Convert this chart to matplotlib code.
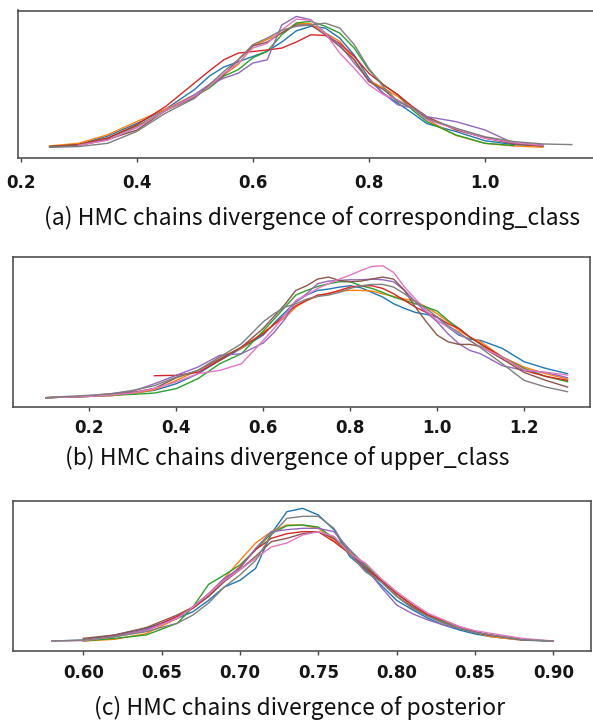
import numpy as np
import matplotlib.pyplot as plt

nan = np.nan
chain_colors = ['tab:blue', 'tab:orange', 'tab:green', 'tab:red',
                'tab:purple', 'tab:brown', 'tab:pink', 'tab:gray']

# (a) corresponding_class -- KDE height of each chain (relative units)
a_x = [0.25, 0.30, 0.35, 0.40, 0.45, 0.50, 0.525, 0.55, 0.575, 0.60, 0.625, 0.65, 0.675, 0.70,
       0.725, 0.75, 0.775, 0.80, 0.825, 0.85, 0.875, 0.90, 0.95, 1.00, 1.05, 1.10, 1.15]
a_blue = [.005, .02, .085, .18, .29, .44, .54, .61, .65, .69, .73, .80, .885, .92,
          .906, .83, .70, .525, .41, .335, .26, .18, .12, .05, .02, .01, nan]
a_orange = [.01, .03, .095, .195, .29, .40, .475, .55, .63, .77, .82, .87, .94, .94,
            .87, .805, .665, .51, .45, .386, .30, .21, .09, .03, .01, .00, nan]
a_green = [.005, .02, .07, .16, .28, .39, .45, .54, .59, .68, .73, .855, .945, .957,
           .92, .868, .754, .589, .475, .40, .284, .195, .094, .03, .013, nan, nan]
a_red = [.005, .02, .07, .17, .31, .49, .58, .665, .716, .728, .74, .754, .80, .855,
         .85, .79, .69, .563, .475, .40, .31, .233, .132, .074, .03, .01, nan]
a_purple = [.00, .015, .055, .15, .28, .40, .475, .525, .563, .64, .665, .93, .995, .97,
            .868, .78, .64, .513, .41, .322, .30, .233, .195, .132, .03, .018, nan]
a_brown = [.005, .015, .06, .13, .28, .38, .46, .55, .665, .77, .80, .87, .93, .93,
           .855, .766, .665, .50, .44, .348, .30, .22, .14, .07, .025, .01, nan]
a_pink = [nan, .015, .055, .15, .28, .39, .46, .56, .64, .754, .79, .89, .975, .965,
          .868, .716, .60, .475, .40, .36, .30, .21, .14, .068, .035, .015, nan]
a_gray = [.00, .005, .03, .12, .26, .373, .475, .576, .665, .78, .83, .89, .92, .93,
          .944, .906, .78, .60, .46, .348, .30, .22, .145, .08, .043, .025, .02]
a_ticks = [0.2, 0.4, 0.6, 0.8, 1.0]
a_labels = ['0.2', '0.4', '0.6', '0.8', '1.0']

# (b) upper_class
b_x = [0.10, 0.15, 0.20, 0.25, 0.30, 0.35, 0.40, 0.45, 0.50, 0.55, 0.60, 0.625, 0.65, 0.675,
       0.70, 0.725, 0.75, 0.775, 0.80, 0.825, 0.85, 0.875, 0.90, 0.925, 0.95, 0.975, 1.00,
       1.025, 1.05, 1.075, 1.10, 1.15, 1.20, 1.25, 1.30]
b_blue = [.00, .005, .01, .015, .035, .055, .105, .18, .28, .37, .47, .56, .64, .72,
          .77, .805, .815, .83, .84, .825, .79, .755, .705, .67, .64, .625, .605,
          .53, .47, .44, .43, .37, .27, .22, .18]
b_orange = [.00, .005, .01, .015, .03, .06, .13, .205, .305, .37, .49, .55, .60, .68,
            .73, .76, .785, .80, .805, .805, .80, .78, .76, .74, .725, .68, .63,
            .57, .505, .455, .42, .305, .23, .18, .14]
b_green = [.00, .005, .01, .02, .025, .035, .068, .143, .255, .33, .50, .59, .68, .77,
           .805, .835, .855, .87, .87, .84, .82, .79, .755, .73, .705, .68, .65,
           .58, .52, .455, .40, .305, .22, .16, .12]
b_red = [nan, nan, nan, nan, nan, .165, .168, .19, .28, .38, .48, .55, .62, .69,
         .73, .77, .78, .805, .83, .84, .84, .82, .78, .73, .68, .64, .605,
         .555, .52, .455, .405, .305, .205, .16, .13]
b_purple = [.00, .005, .015, .03, .048, .105, .168, .23, .318, .33, .41, .49, .59, .72,
            .78, .855, .875, .88, .885, .885, .89, .885, .87, .805, .72, .64, .57,
            .48, .405, .355, .33, .24, .205, .19, .15]
b_brown = [.00, .005, .01, .025, .04, .07, .15, .205, .29, .38, .52, .61, .70, .805,
           .84, .89, .905, .88, .87, .875, .89, .905, .89, .805, .68, .57, .47,
           .42, .40, .40, .385, .29, .19, .13, .08]
b_pink = [.00, .005, .01, .02, .035, .07, .118, .18, .205, .255, .43, .52, .62, .73,
          .77, .82, .855, .89, .92, .955, .985, .99, .94, .83, .74, .655, .58,
          .53, .48, .43, .38, .305, .21, .19, .17]
b_gray = [.00, .01, .018, .03, .055, .09, .155, .205, .305, .405, .57, .63, .68, .705,
          .74, .76, .77, .79, .82, .84, .85, .85, .83, .78, .72, .67, .605,
          .54, .49, .43, .375, .255, .13, .08, .045]
b_ticks = [0.2, 0.4, 0.6, 0.8, 1.0, 1.2]
b_labels = ['0.2', '0.4', '0.6', '0.8', '1.0', '1.2']

# (c) posterior
c_x = [0.58, 0.60, 0.62, 0.64, 0.66, 0.67, 0.68, 0.69, 0.70, 0.71, 0.72, 0.73, 0.74, 0.75,
       0.76, 0.77, 0.78, 0.79, 0.80, 0.81, 0.82, 0.83, 0.84, 0.85, 0.86, 0.88, 0.90]
c_blue = [.005, .012, .05, .10, .175, .225, .31, .41, .46, .55, .81, .975, 1.0, .95,
          .84, .64, .54, .425, .31, .24, .175, .125, .088, .058, .038, .012, .003]
c_orange = [nan, .005, .018, .06, .175, .26, .36, .475, .61, .74, .825, .875, .875, .85,
            .76, .675, .575, .46, .36, .275, .20, .15, .10, .07, .038, .012, nan]
c_green = [nan, .006, .025, .05, .138, .26, .43, .50, .575, .69, .81, .87, .875, .86,
           .775, .69, .575, .46, .36, .275, .20, .15, .10, .07, .05, .015, nan]
c_red = [nan, .015, .04, .088, .19, .25, .34, .46, .56, .69, .775, .81, .825, .825,
         .75, .66, .56, .46, .36, .275, .20, .16, .113, .075, .045, nan, nan]
c_purple = [nan, .01, .038, .088, .175, .26, .36, .475, .55, .70, .825, .84, .85, .85,
            .825, .69, .56, .41, .275, .21, .163, .125, .10, .07, .05, .015, nan]
c_brown = [nan, .025, .05, .105, .20, .26, .34, .45, .54, .64, .75, .775, .81, .825,
           .775, .66, .55, .45, .34, .26, .19, .14, .10, .07, .05, .015, .005]
c_pink = [.005, .008, .038, .08, .175, .26, .36, .46, .54, .625, .71, .74, .80, .825,
          .79, .66, .59, .475, .375, .29, .213, .163, .113, .083, .063, .025, .005]
c_gray = [.005, .012, .038, .075, .138, .20, .29, .41, .50, .61, .80, .925, .94, .94,
          .85, .66, .525, .45, .34, .25, .19, .14, .10, .07, .05, .015, .005]
c_ticks = [0.60, 0.65, 0.70, 0.75, 0.80, 0.85, 0.90]
c_labels = ['0.60', '0.65', '0.70', '0.75', '0.80', '0.85', '0.90']

captions = ['(a) HMC chains divergence of corresponding_class',
            '(b) HMC chains divergence of upper_class',
            '(c) HMC chains divergence of posterior']

W, H = 593, 722
fig = plt.figure(figsize=(W / 100, H / 100), dpi=100)


def px_axes(left, top, right, bottom):
    return fig.add_axes([left / W, 1 - bottom / H, (right - left) / W, (bottom - top) / H])


def draw_panel(ax, x, chains, xlim, ylim, ticks, labels, pad):
    for ys, col in zip(chains, chain_colors):
        ax.plot(x, ys, color=col, lw=1.0)
    ax.set_xlim(*xlim)
    ax.set_ylim(*ylim)
    ax.set_yticks([])
    ax.set_xticks(ticks)
    ax.set_xticklabels(labels, fontsize=12, fontweight='bold', fontfamily='DejaVu Sans',
                       color='#151515')
    ax.tick_params(axis='x', length=3, width=1, color='#444444', pad=pad)
    for s in ax.spines.values():
        s.set_color('#444444')
        s.set_linewidth(1.1)


ax_a = px_axes(18.3, 10.5, 598, 158.3)
draw_panel(ax_a, a_x, [a_blue, a_orange, a_green, a_red, a_purple, a_brown, a_pink, a_gray],
           (0.196, 1.195), (-0.084, 1.04), a_ticks, a_labels, 8)

ax_b = px_axes(12.7, 256.7, 589.7, 406.7)
draw_panel(ax_b, b_x, [b_blue, b_orange, b_green, b_red, b_purple, b_brown, b_pink, b_gray],
           (0.0238, 1.351), (-0.0675, 1.058), b_ticks, b_labels, 6)

ax_c = px_axes(13.2, 501, 590.8, 650.7)
draw_panel(ax_c, c_x, [c_blue, c_orange, c_green, c_red, c_purple, c_brown, c_pink, c_gray],
           (0.5553, 0.9239), (-0.0675, 1.055), c_ticks, c_labels, 6.5)

cap_pos = [(312, 218.3), (287.5, 458.3), (299, 707.5)]
for txt, (cx, cy) in zip(captions, cap_pos):
    fig.text(cx / W, 1 - cy / H, txt, ha='center', va='center', fontsize=16.5,
             family=['Noto Sans CJK KR', 'DejaVu Sans'], color='#111111')

fig.savefig('out.png', dpi=100)
